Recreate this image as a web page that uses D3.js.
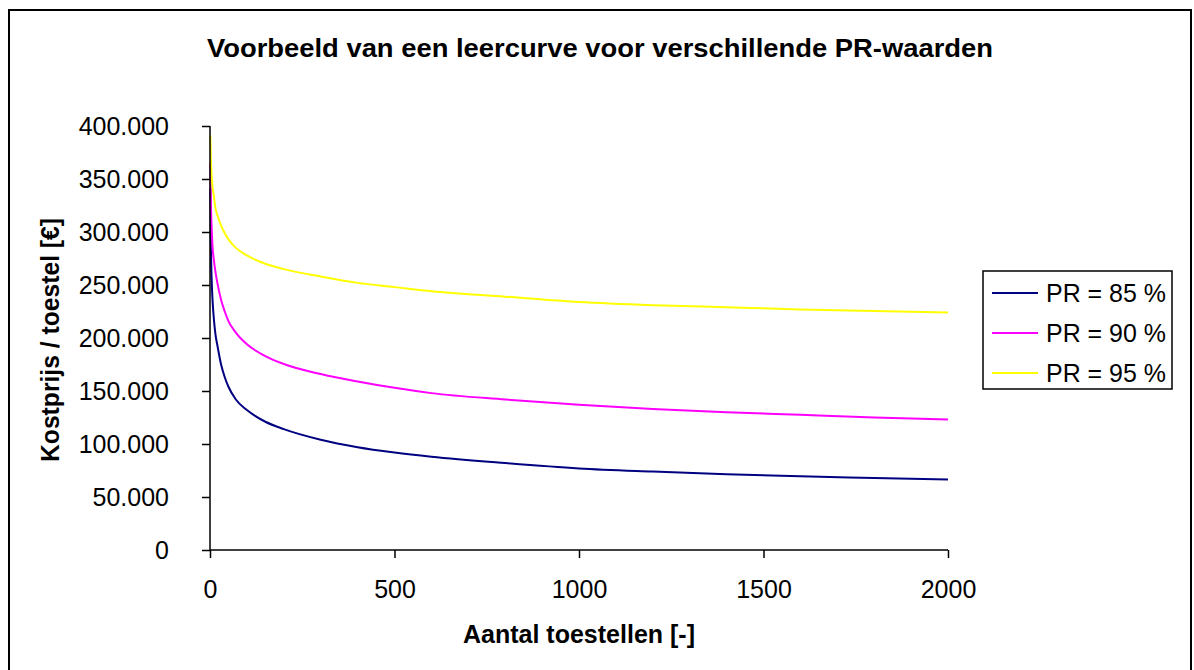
<!DOCTYPE html>
<html><head><meta charset="utf-8">
<script src="https://cdn.jsdelivr.net/npm/d3@7"></script>
<style>
html,body{margin:0;padding:0;background:#fff;}
text{font-family:"Liberation Sans",Arial,sans-serif;fill:#000;}
</style></head>
<body>
<svg id="chart" width="1194" height="670"></svg>
<script>
// ---- data ----
const units = [1, 2, 3, 5, 7, 10, 15, 20, 30, 40, 50, 70, 100, 150, 200, 300, 400, 500, 600, 800, 1000, 1200, 1400, 1600, 1800, 2000];
const pr85 = [341000, 300000, 275000, 250000, 235000, 220000, 203000, 193000, 175000, 163000, 154000, 142000, 132000, 121000, 114000, 104000, 97000, 92000, 88000, 82000, 77000, 74000, 71500, 69500, 68000, 66500];
const pr90 = [365000, 335000, 318000, 300000, 285000, 275000, 262000, 252000, 236000, 225000, 216000, 205000, 194000, 183000, 175500, 166000, 159000, 153000, 148000, 142000, 137000, 133000, 130000, 127500, 125000, 123000];
const pr95 = [391000, 375000, 363000, 350000, 342000, 335000, 322000, 316000, 306000, 299000, 293000, 285000, 278000, 270000, 265000, 258000, 252000, 248000, 244000, 239000, 234000, 231000, 229000, 227000, 225500, 224000];
const seriesNames = ["PR = 85 %", "PR = 90 %", "PR = 95 %"];
const seriesColors = ["#000080", "#FF00FF", "#FFFF00"];
const xTicks = [0, 500, 1000, 1500, 2000];
const yTicks = [0, 50000, 100000, 150000, 200000, 250000, 300000, 350000, 400000];
const titleText = "Voorbeeld van een leercurve voor verschillende PR-waarden";
const xTitle = "Aantal toestellen [-]";
const yTitle = "Kostprijs / toestel [€]";

const series = [pr85, pr90, pr95].map((vals, i) => ({
  name: seriesNames[i], color: seriesColors[i],
  points: units.map((u, j) => ({x: u, y: vals[j]}))
}));

const svg = d3.select("#chart");
const nl = d3.formatLocale({decimal: ",", thousands: ".", grouping: [3], currency: ["€", ""]});
const fmt = nl.format(",");

// outer frame
svg.append("rect").attr("x", 9).attr("y", 10).attr("width", 1182).attr("height", 700)
  .attr("fill", "#fff").attr("stroke", "#000").attr("stroke-width", 2);

const x = d3.scaleLinear().domain([0, 2000]).range([210, 948]);
const y = d3.scaleLinear().domain([0, 400000]).range([550, 126]);

// lines
const line = d3.line().x(d => x(d.x)).y(d => y(d.y)).curve(d3.curveMonotoneX);
svg.append("g").selectAll("path").data(series).join("path")
  .attr("d", d => line(d.points)).attr("fill", "none")
  .attr("stroke", d => d.color).attr("stroke-width", 2);

// axes
const yAxis = d3.axisLeft(y).tickValues(yTicks).tickFormat(fmt).tickSize(8).tickPadding(33);
const gy = svg.append("g").attr("transform", "translate(210,0)").call(yAxis);
const xAxis = d3.axisBottom(x).tickValues(xTicks).tickFormat(d3.format("d")).tickSize(8).tickPadding(22);
const gx = svg.append("g").attr("transform", "translate(0,550)").call(xAxis);
[gx, gy].forEach(g => {
  g.select(".domain").attr("stroke", "#000").attr("stroke-width", 1.5);
  g.selectAll(".tick line").attr("stroke", "#000").attr("stroke-width", 1.5);
  g.selectAll(".tick text").attr("font-family", "Liberation Sans, Arial, sans-serif")
    .attr("font-size", 25).attr("fill", "#000");
});
gx.select(".domain").attr("d", "M210,0H948");
gy.select(".domain").attr("d", "M0,550V126");

// titles
svg.append("text").attr("x", 600).attr("y", 57).attr("text-anchor", "middle")
  .attr("font-size", 25).attr("font-weight", "bold")
  .attr("textLength", 786).attr("lengthAdjust", "spacingAndGlyphs").text(titleText);
svg.append("text").attr("x", 579).attr("y", 643).attr("text-anchor", "middle")
  .attr("font-size", 25).attr("font-weight", "bold")
  .attr("textLength", 232).attr("lengthAdjust", "spacingAndGlyphs").text(xTitle);
svg.append("text").attr("transform", "translate(59,340) rotate(-90)").attr("text-anchor", "middle")
  .attr("font-size", 25).attr("font-weight", "bold")
  .attr("textLength", 244).attr("lengthAdjust", "spacingAndGlyphs").text(yTitle);

// legend
const lg = svg.append("g");
lg.append("rect").attr("x", 983).attr("y", 271).attr("width", 189).attr("height", 118)
  .attr("fill", "#fff").attr("stroke", "#000").attr("stroke-width", 1.5);
const rowsY = [293, 333, 373];
const items = lg.selectAll("g.item").data(series).join("g").attr("class", "item")
  .attr("transform", (d, i) => `translate(0,${rowsY[i]})`);
items.append("line").attr("x1", 992).attr("x2", 1038).attr("y1", 0).attr("y2", 0)
  .attr("stroke", d => d.color).attr("stroke-width", 2);
items.append("text").attr("x", 1046).attr("y", 0).attr("dy", "0.35em")
  .attr("font-size", 25).attr("textLength", 120).attr("lengthAdjust", "spacingAndGlyphs")
  .text(d => d.name);
</script>
</body></html>
